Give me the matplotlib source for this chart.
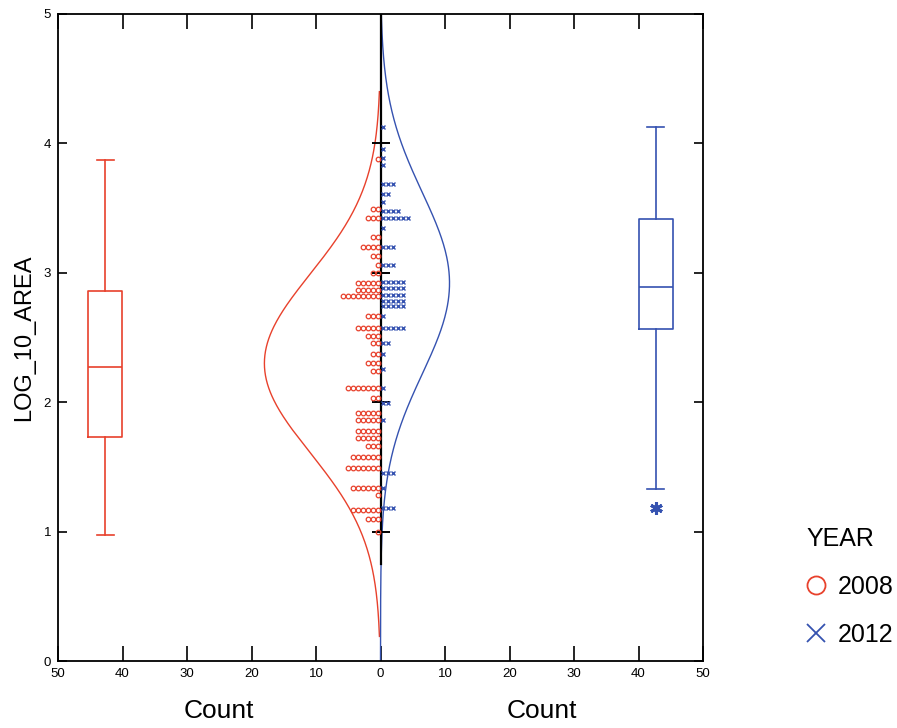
import numpy as np
import matplotlib
matplotlib.use('Agg')
import matplotlib.pyplot as plt
import matplotlib.transforms as mtransforms
from matplotlib.lines import Line2D

plt.rcParams['font.family'] = ['Liberation Sans', 'DejaVu Sans']

RED = '#e8412c'
BLUE = '#3552b0'

# dot rows: (LOG_10_AREA value, number of dots)
rows_2008 = [(3.88, 1), (3.49, 2), (3.42, 3), (3.28, 2), (3.20, 4), (3.13, 2),
             (3.06, 1), (3.00, 2), (2.92, 5), (2.87, 5), (2.82, 8), (2.67, 3),
             (2.57, 5), (2.51, 3), (2.46, 2), (2.37, 2), (2.30, 3), (2.24, 2),
             (2.11, 7), (2.03, 2), (1.92, 5), (1.86, 5), (1.78, 5), (1.72, 5),
             (1.66, 3), (1.58, 6), (1.49, 7), (1.34, 6), (1.28, 1), (1.17, 6),
             (1.10, 3), (1.00, 1)]
rows_2012 = [(4.13, 1), (3.96, 1), (3.89, 1), (3.83, 1), (3.69, 3), (3.61, 2),
             (3.55, 1), (3.48, 4), (3.42, 6), (3.35, 1), (3.20, 3), (3.06, 3),
             (2.93, 5), (2.88, 5), (2.83, 5), (2.78, 5), (2.74, 5), (2.67, 1),
             (2.57, 5), (2.46, 2), (2.37, 1), (2.26, 1), (2.11, 1), (1.99, 2),
             (1.86, 1), (1.45, 3), (1.34, 1), (1.18, 3)]

# fitted normal curves: mean, sd, peak count, drawn range
curve_2008 = dict(mean=2.30, sd=0.69, peak=18.0, lo=0.19, hi=4.40)
curve_2012 = dict(mean=2.92, sd=0.70, peak=10.7, lo=0.0, hi=5.0)

# box plot stats
box_2008 = dict(med=2.27, q1=1.73, q3=2.86, whislo=0.97, whishi=3.87, fliers=[])
box_2012 = dict(med=2.89, q1=2.566, q3=3.416, whislo=1.33, whishi=4.127, fliers=[1.18])

xticks = np.arange(-50, 51, 10)
yticks = [0, 1, 2, 3, 4, 5]

pitch, offset = 0.78, 0.4

fig = plt.figure(figsize=(8.97, 7.28), dpi=100)
ax = fig.add_axes([58 / 897, 1 - 661 / 728, 645 / 897, 647 / 728])


def stack(rows, side):
    xs, ys = [], []
    for v, n in rows:
        for k in range(n):
            xs.append(side * (offset + pitch * k))
            ys.append(v)
    return xs, ys


def normal(c, side):
    y = np.linspace(c['lo'], c['hi'], 400)
    x = side * c['peak'] * np.exp(-0.5 * ((y - c['mean']) / c['sd']) ** 2)
    return x, y


# curves
x, y = normal(curve_2008, -1)
ax.plot(x, y, color=RED, lw=1.0)
x, y = normal(curve_2012, 1)
ax.plot(x, y, color=BLUE, lw=1.0)

# centre axis and its ticks
ax.axvline(0, ymin=0.15, ymax=1, color='black', lw=1.6, zorder=3)
ax.hlines(yticks[1:5], -1.3, 1.5, color='black', lw=1.4, zorder=3)

# dots
xs, ys = stack(rows_2008, -1)
ax.plot(xs, ys, 'o', ms=3.3, mfc='none', mec=RED, mew=0.9, zorder=4)
xs, ys = stack(rows_2012, 1)
ax.plot(xs, ys, 'x', ms=3.3, color=BLUE, mew=1.0, zorder=4)

# boxes
for st, pos, col in [(box_2008, -42.7, RED), (box_2012, 42.7, BLUE)]:
    ax.bxp([st], positions=[pos], widths=5.3, showfliers=True,
           boxprops=dict(color=col, lw=1.2),
           medianprops=dict(color=col, lw=1.2),
           whiskerprops=dict(color=col, lw=1.2),
           capprops=dict(color=col, lw=1.2),
           flierprops=dict(marker=(6, 2, 0), ms=9, mec=col, mew=2.2))

ax.set_xlim(-50, 50)
ax.set_ylim(0, 5)
ax.set_xticks(xticks)
ax.set_xticklabels([str(abs(t)) for t in xticks])
ax.set_yticks(yticks)
ax.tick_params(axis='x', direction='in', length=11, width=1.2, top=True,
               labelsize=9.5, pad=5)
ax.tick_params(axis='y', direction='in', length=6.5, width=1.2, right=True,
               labelsize=9.5, pad=5)
for s in ax.spines.values():
    s.set_linewidth(1.3)

ax.set_ylabel('LOG_10_AREA', fontsize=17, labelpad=6)
trans = mtransforms.blended_transform_factory(ax.transData, ax.transAxes)
ax.text(-25, -0.077, 'Count', transform=trans, ha='center', va='center', fontsize=19)
ax.text(25, -0.077, 'Count', transform=trans, ha='center', va='center', fontsize=19)

handles = [Line2D([], [], ls='none', marker='o', ms=13, mfc='none', mec=RED, mew=1.3),
           Line2D([], [], ls='none', marker='x', ms=13, color=BLUE, mew=1.3)]
fig.legend(handles, ['2008', '2012'], title='YEAR', loc='upper left',
           bbox_to_anchor=(806 / 897, 1 - 527 / 728), frameon=False,
           fontsize=18, title_fontsize=18, alignment='left',
           handlelength=0.8, handletextpad=0.45, labelspacing=0.95,
           borderpad=0.0, borderaxespad=0.0)

fig.savefig('out.png', dpi=100)
